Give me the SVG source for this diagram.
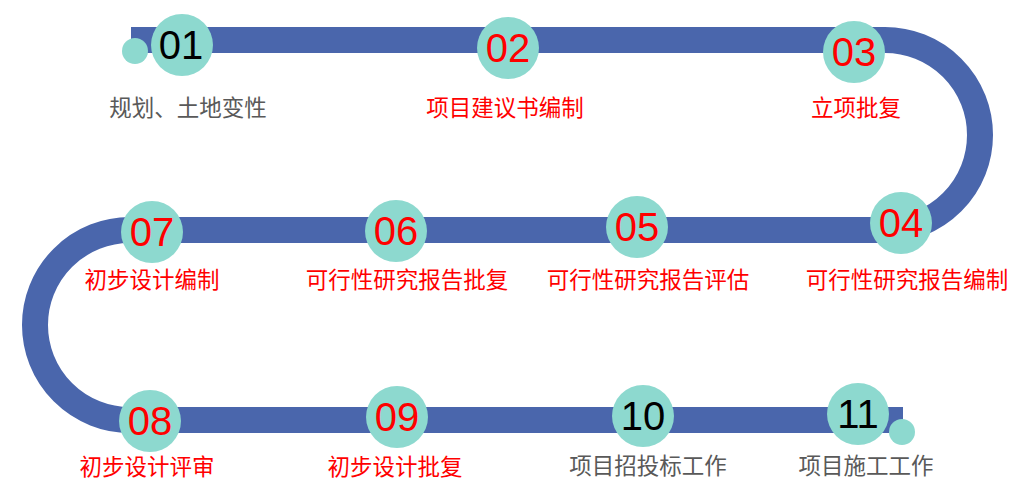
<svg xmlns="http://www.w3.org/2000/svg" width="1025" height="494" viewBox="0 0 1025 494">
<style>
.track{fill:none;stroke:#4A66AC;stroke-width:26;stroke-linecap:butt}
.dot{fill:#8DD9CF}
.c{fill:#8DD9CF}
.num{font-family:"Liberation Sans",Arial,sans-serif;font-size:40px;text-anchor:middle}
.lbl{font-family:"Noto Sans CJK SC","Noto Sans",sans-serif;font-size:22.5px;text-anchor:middle}
.red{fill:#FF0000}
.blk{fill:#000000}
.gray{fill:#595959}
</style>
<rect width="1025" height="494" fill="#FFFFFF"/>
<g id="connectors">
<path class="track" d="M131,40 H885 A95,95 0 0 1 885,230 H130 A95,95 0 0 0 130,420 H903"/>
<circle class="dot" cx="135" cy="51" r="13"/>
<circle class="dot" cx="902" cy="432" r="13"/>
</g>
<g id="n01"><circle class="c" cx="182" cy="45" r="31"/><text class="num blk" x="181" y="59">01</text><text class="lbl gray" x="188" y="116">规划、土地变性</text></g>
<g id="n02"><circle class="c" cx="508" cy="48" r="31"/><text class="num red" x="508" y="62">02</text><text class="lbl red" x="505" y="116">项目建议书编制</text></g>
<g id="n03"><circle class="c" cx="854" cy="52" r="31"/><text class="num red" x="854" y="66">03</text><text class="lbl red" x="856" y="116">立项批复</text></g>
<g id="n04"><circle class="c" cx="901" cy="223" r="31"/><text class="num red" x="901" y="237">04</text><text class="lbl red" x="907" y="288">可行性研究报告编制</text></g>
<g id="n05"><circle class="c" cx="637" cy="227" r="31"/><text class="num red" x="637" y="241">05</text><text class="lbl red" x="648" y="288">可行性研究报告评估</text></g>
<g id="n06"><circle class="c" cx="396" cy="231" r="31"/><text class="num red" x="396" y="245">06</text><text class="lbl red" x="407" y="288">可行性研究报告批复</text></g>
<g id="n07"><circle class="c" cx="152" cy="232" r="31"/><text class="num red" x="152" y="246">07</text><text class="lbl red" x="152" y="288">初步设计编制</text></g>
<g id="n08"><circle class="c" cx="150" cy="421" r="31"/><text class="num red" x="150" y="435">08</text><text class="lbl red" x="147" y="475">初步设计评审</text></g>
<g id="n09"><circle class="c" cx="397" cy="417" r="31"/><text class="num red" x="397" y="431">09</text><text class="lbl red" x="395" y="475">初步设计批复</text></g>
<g id="n10"><circle class="c" cx="643" cy="416" r="31"/><text class="num blk" x="643" y="430">10</text><text class="lbl gray" x="648" y="474">项目招投标工作</text></g>
<g id="n11"><circle class="c" cx="858" cy="414" r="31"/><text class="num blk" x="858" y="428">11</text><text class="lbl gray" x="866" y="474">项目施工工作</text></g>
</svg>
